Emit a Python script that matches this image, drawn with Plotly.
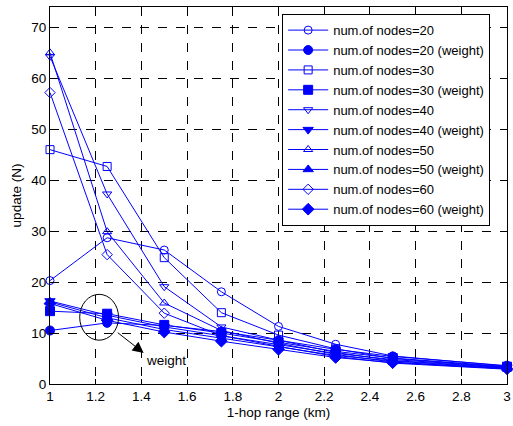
import plotly.graph_objects as go

x = [1, 1.25, 1.5, 1.75, 2, 2.25, 2.5, 3]

n20 = [20.3, 28.7, 26.3, 18.1, 11.3, 7.8, 5.5, 3.5]
n20w = [10.5, 12.0, 11.5, 10.3, 8.6, 6.8, 5.4, 3.6]
n30 = [46.0, 42.7, 24.8, 14.0, 9.6, 6.9, 5.0, 3.3]
n30w = [14.3, 13.8, 11.6, 10.0, 8.2, 6.4, 5.1, 3.4]
n40 = [64.3, 37.3, 19.1, 11.2, 8.6, 6.2, 4.6, 3.2]
n40w = [16.3, 13.5, 11.2, 9.5, 7.7, 6.0, 4.8, 3.3]
n50 = [65.0, 29.9, 15.9, 10.5, 8.0, 5.8, 4.3, 3.0]
n50w = [16.1, 13.0, 10.7, 9.0, 7.2, 5.6, 4.5, 3.1]
n60 = [57.2, 25.4, 13.9, 9.5, 7.4, 5.4, 4.1, 2.9]
n60w = [15.8, 12.5, 10.2, 8.4, 6.8, 5.2, 4.2, 3.0]

xticks = [1, 1.2, 1.4, 1.6, 1.8, 2, 2.2, 2.4, 2.6, 2.8, 3]
yticks = [0, 10, 20, 30, 40, 50, 60, 70]

series = [
    ('num.of nodes=20', n20, 'circle-open'),
    ('num.of nodes=20 (weight)', n20w, 'circle'),
    ('num.of nodes=30', n30, 'square-open'),
    ('num.of nodes=30 (weight)', n30w, 'square'),
    ('num.of nodes=40', n40, 'triangle-down-open'),
    ('num.of nodes=40 (weight)', n40w, 'triangle-down'),
    ('num.of nodes=50', n50, 'triangle-up-open'),
    ('num.of nodes=50 (weight)', n50w, 'triangle-up'),
    ('num.of nodes=60', n60, 'diamond-open'),
    ('num.of nodes=60 (weight)', n60w, 'diamond'),
]

fig = go.Figure()
for name, y, sym in series:
    filled = not sym.endswith('open')
    fig.add_trace(go.Scatter(
        x=x, y=y, name=name, mode='lines+markers', cliponaxis=False,
        line=dict(color='#0000ff', width=1),
        marker=dict(symbol=sym, size=9 if filled else 8, color='#0000ff',
                    line=dict(color='#0000ff', width=1))))

# ellipse + arrow pointing out the weighted curves
fig.add_shape(type='circle', xref='x', yref='y', x0=1.13, x1=1.30, y0=8.6, y1=17.6,
              line=dict(color='black', width=1))
fig.add_annotation(x=1.41, y=6.1, ax=1.29, ay=10.3, axref='x', ayref='y',
                   xref='x', yref='y', text='', showarrow=True,
                   arrowhead=2, arrowsize=2.2, arrowwidth=1, arrowcolor='black')
fig.add_annotation(x=1.41, y=4.7, xref='x', yref='y', text='weight', showarrow=False,
                   xanchor='left', font=dict(size=13.5, color='black'))

axis = dict(showline=True, linecolor='black', linewidth=1, mirror='ticks',
            ticks='inside', ticklen=5, tickcolor='black', automargin=False,
            showgrid=True, gridcolor='black', gridwidth=1, griddash='dash',
            zeroline=False, tickfont=dict(size=13.5, color='black'))

fig.update_xaxes(range=[1, 3], tickvals=xticks, ticktext=[f'{v:g}' for v in xticks],
                 title=dict(text='1-hop range (km)', font=dict(size=13.5, color='black'), standoff=4),
                 **axis)
fig.update_yaxes(range=[0, 74], tickvals=yticks,
                 title=dict(text='update (N)', font=dict(size=13.5, color='black'), standoff=6),
                 **axis)

fig.update_layout(
    width=513, height=426,
    margin=dict(l=50, r=6, t=7, b=42),
    paper_bgcolor='white', plot_bgcolor='white',
    font=dict(family='Arial, Liberation Sans, sans-serif', color='black'),
    legend=dict(x=0.508, y=0.981, xanchor='left', yanchor='top', itemwidth=40,
                bgcolor='white', bordercolor='black', borderwidth=1,
                font=dict(size=13, color='black')),
)

fig.write_html('out.html', config={'displayModeBar': False},
               post_script="document.body.style.margin='0px';")
